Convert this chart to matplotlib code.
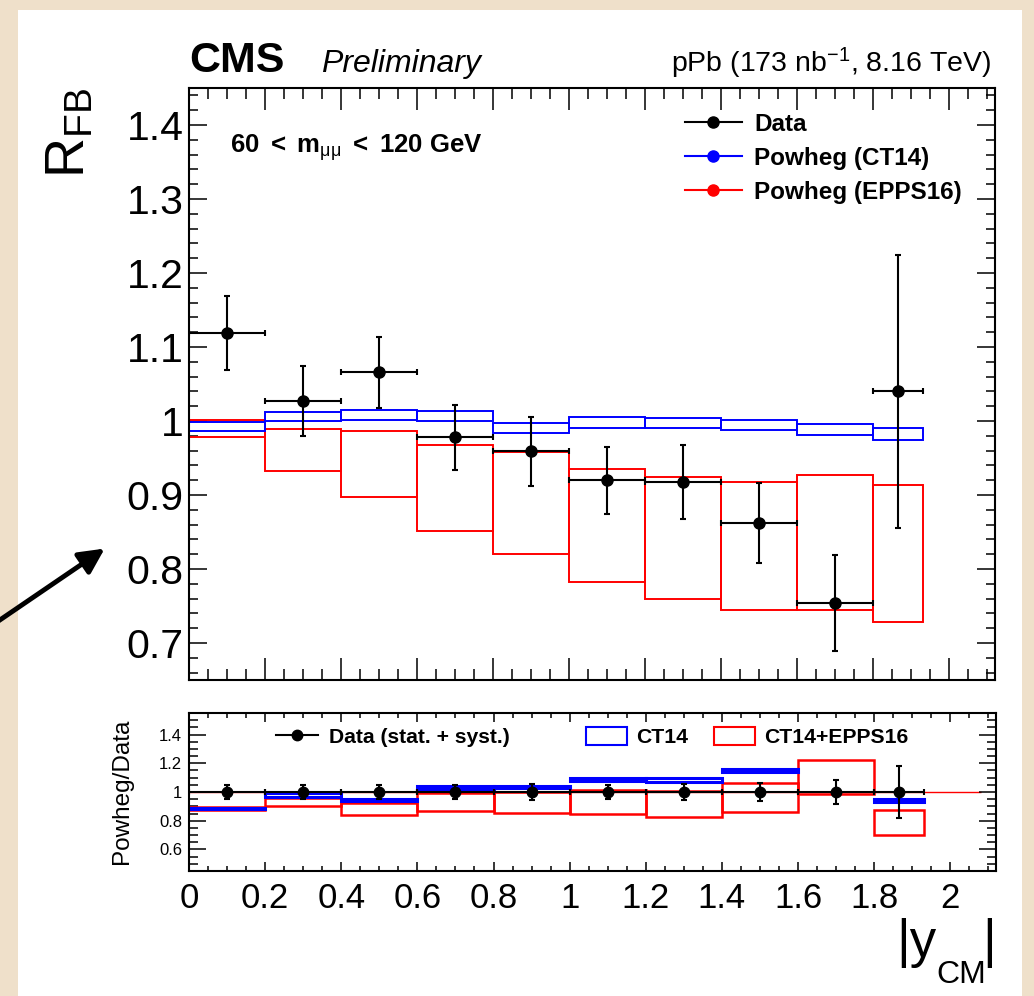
#!/usr/bin/env python3
"""R_FB vs |y_CM| (60 < m_mumu < 120 GeV, pPb 8.16 TeV): data vs Powheg with
CT14 and CT14+EPPS16, plus the Powheg/Data ratio panel. Writes out.png."""
import numpy as np
import matplotlib
matplotlib.use("Agg")
import matplotlib.pyplot as plt
from matplotlib.lines import Line2D
from matplotlib.patches import Patch, Rectangle, FancyArrowPatch
from matplotlib.ticker import MultipleLocator, FuncFormatter

# |y_CM| bin edges, the last bin stops at 1.93
EDGES = [0.0, 0.2, 0.4, 0.6, 0.8, 1.0, 1.2, 1.4, 1.6, 1.8, 1.93]

# top panel, R_FB
RFB_DATA = [1.119, 1.027, 1.066, 0.978, 0.959, 0.920, 0.917, 0.862, 0.754, 1.040]
RFB_ERR = [0.050, 0.047, 0.048, 0.044, 0.047, 0.045, 0.050, 0.054, 0.065, 0.184]
CT14_LO = [0.986, 1.000, 1.002, 1.000, 0.984, 0.991, 0.990, 0.988, 0.981, 0.974]
CT14_HI = [0.998, 1.012, 1.015, 1.014, 0.997, 1.005, 1.004, 1.002, 0.996, 0.991]
EPPS_LO = [0.978, 0.932, 0.897, 0.852, 0.820, 0.783, 0.759, 0.744, 0.744, 0.728]
EPPS_HI = [1.002, 0.989, 0.987, 0.968, 0.958, 0.935, 0.924, 0.918, 0.927, 0.914]

# bottom panel, Powheg/Data (CT14 band missing in the 1.6-1.8 bin)
RATIO_DATA = [1.0, 1.0, 1.0, 1.0, 1.0, 1.0, 1.0, 1.0, 1.0, 1.0]
RATIO_ERR = [0.049, 0.049, 0.049, 0.050, 0.056, 0.052, 0.058, 0.063, 0.085, 0.178]
CT14_R_LO = [0.882, 0.968, 0.935, 1.019, 1.028, 1.075, 1.073, 1.140, np.nan, 0.933]
CT14_R_HI = [0.892, 0.990, 0.953, 1.040, 1.045, 1.095, 1.096, 1.163, np.nan, 0.951]
EPPS_R_LO = [0.872, 0.905, 0.840, 0.867, 0.853, 0.849, 0.825, 0.860, 0.984, 0.700]
EPPS_R_HI = [0.897, 0.957, 0.923, 0.990, 1.000, 1.012, 1.007, 1.063, 1.224, 0.877]

BLUE = "#0000ff"
RED = "#ff0000"
FONT = "Liberation Sans"
W, H = 1034, 996

plt.rcParams["font.family"] = [FONT, "DejaVu Sans"]
plt.rcParams["mathtext.fontset"] = "custom"
plt.rcParams["mathtext.rm"] = FONT
plt.rcParams["mathtext.it"] = FONT + ":italic"
plt.rcParams["mathtext.bf"] = FONT + ":bold"


def px(x, y):
    # pixel position (from top-left) -> figure fraction
    return x / W, 1 - y / H


def boxes(ax, lo, hi, color, lw):
    lo = np.asarray(lo, float)
    hi = np.asarray(hi, float)
    e = np.asarray(EDGES)
    ax.bar(e[:-1], hi - lo, bottom=lo, width=np.diff(e), align="edge",
           fill=False, edgecolor=color, linewidth=lw, zorder=2)


def data_points(ax, vals, errs, ms):
    e = np.asarray(EDGES)
    ctr = 0.5 * (e[:-1] + e[1:])
    ax.errorbar(ctr, vals, xerr=0.5 * np.diff(e), yerr=errs, fmt="o", color="black",
                ms=ms, elinewidth=1.5, capsize=2, capthick=1.5, zorder=4)


fmt = FuncFormatter(lambda v, _: f"{v:g}")

fig = plt.figure(figsize=(W / 100, H / 100), dpi=100)
fig.patch.set_facecolor("#efe0ca")
fig.add_artist(Rectangle(px(18, 996), 1004 / W, 986 / H, transform=fig.transFigure,
                         facecolor="white", edgecolor="none", zorder=-5))

# ---- top panel
ax = fig.add_axes([189 / W, 1 - 680 / H, 806 / W, 592 / H])
boxes(ax, EPPS_LO, EPPS_HI, RED, 1.4)
boxes(ax, CT14_LO, CT14_HI, BLUE, 1.4)
data_points(ax, RFB_DATA, RFB_ERR, 8)
ax.set_xlim(0, 2.12)
ax.set_ylim(0.65, 1.45)
ax.xaxis.set_major_locator(MultipleLocator(0.2))
ax.xaxis.set_minor_locator(MultipleLocator(0.05))
ax.yaxis.set_major_locator(MultipleLocator(0.1))
ax.yaxis.set_minor_locator(MultipleLocator(0.02))
ax.yaxis.set_major_formatter(fmt)
ax.tick_params(which="both", direction="in", top=True, right=True, width=1.1,
               labelbottom=False, labelsize=29.5, pad=4)
ax.tick_params(axis="x", which="major", length=15.5)
ax.tick_params(axis="x", which="minor", length=8)
ax.tick_params(axis="y", which="major", length=13)
ax.tick_params(axis="y", which="minor", length=6.5)
for s in ax.spines.values():
    s.set_linewidth(1.5)

ax.text(0.051, 0.9, r"$\mathbf{60\ <\ m}_{\mathrm{\mu\mu}}\mathbf{\ <\ 120\ GeV}$",
        transform=ax.transAxes, fontsize=18.5, va="center", ha="left")
handles = [Line2D([], [], color=c, marker="o", ms=8, lw=1.5) for c in ("black", BLUE, RED)]
ax.legend(handles, ["Data", "Powheg (CT14)", "Powheg (EPPS16)"], loc="upper left",
          bbox_to_anchor=(0.615, 0.958), frameon=False, borderpad=0, borderaxespad=0,
          handlelength=2.37, handletextpad=0.5, labelspacing=0.45,
          prop={"weight": "bold", "size": 17.5})

# ---- ratio panel
rx = fig.add_axes([189 / W, 1 - 871 / H, 807 / W, 158 / H])
rx.hlines(1.0, 0, 2.08, color=RED, lw=1.0, zorder=1)
boxes(rx, EPPS_R_LO, EPPS_R_HI, RED, 1.8)
boxes(rx, CT14_R_LO, CT14_R_HI, BLUE, 2.2)
data_points(rx, RATIO_DATA, RATIO_ERR, 7.5)
rx.set_xlim(0, 2.12)
rx.set_ylim(0.45, 1.55)
rx.xaxis.set_major_locator(MultipleLocator(0.2))
rx.xaxis.set_minor_locator(MultipleLocator(0.05))
rx.yaxis.set_major_locator(MultipleLocator(0.2))
rx.yaxis.set_minor_locator(MultipleLocator(0.05))
rx.xaxis.set_major_formatter(fmt)
rx.yaxis.set_major_formatter(fmt)
rx.tick_params(which="both", direction="in", top=True, right=True, width=1.1)
rx.tick_params(axis="x", labelsize=25, pad=8)
rx.tick_params(axis="y", labelsize=12, pad=5)
rx.tick_params(axis="x", which="major", length=6.5)
rx.tick_params(axis="x", which="minor", length=3.6)
rx.tick_params(axis="y", which="major", length=12)
rx.tick_params(axis="y", which="minor", length=6.5)
for s in rx.spines.values():
    s.set_linewidth(1.5)

leg1 = rx.legend([Line2D([], [], color="black", marker="o", ms=7.5, lw=1.5)],
                 ["Data (stat. + syst.)"], loc="center left", bbox_to_anchor=(0.108, 0.848),
                 frameon=False, borderpad=0, borderaxespad=0, handlelength=2.0,
                 handletextpad=0.5, prop={"weight": "bold", "size": 15.2})
rx.add_artist(leg1)
rx.legend([Patch(facecolor="white", edgecolor=BLUE, lw=1.5),
           Patch(facecolor="white", edgecolor=RED, lw=1.5)],
          ["CT14", "CT14+EPPS16"], loc="center left", bbox_to_anchor=(0.492, 0.848), ncol=2,
          frameon=False, borderpad=0, borderaxespad=0, handlelength=1.95, handleheight=0.9,
          handletextpad=0.43, columnspacing=1.2, prop={"weight": "bold", "size": 15.2})

# ---- labels and header
fig.text(*px(70, 88), r"$\mathrm{R_{FB}}$", rotation=90, ha="center", va="top", fontsize=40)
fig.text(*px(122, 791), "Powheg/Data", rotation=90, ha="center", va="center", fontsize=17.5)
# |y_CM| built from pieces so the subscript sits as low as in the original
fig.text(*px(996, 957), "|", ha="right", va="baseline", fontsize=38)
fig.text(*px(986, 983), "CM", ha="right", va="baseline", fontsize=23)
fig.text(*px(936, 957), "|y", ha="right", va="baseline", fontsize=38)
fig.text(*px(189, 72), "CMS", fontsize=31, weight="bold", va="baseline")
fig.text(*px(321, 72), "Preliminary", fontsize=23, style="italic", va="baseline")
fig.text(*px(991, 72), r"pPb (173 nb$^{\mathrm{-1}}$, 8.16 TeV)", fontsize=20.5,
         ha="right", va="baseline")

# pointer arrow on the left margin
fig.add_artist(FancyArrowPatch(px(-6, 624), px(107, 547), transform=fig.transFigure,
                               arrowstyle="-|>", mutation_scale=38, lw=3.5, color="black"))

fig.savefig("out.png", dpi=100)
